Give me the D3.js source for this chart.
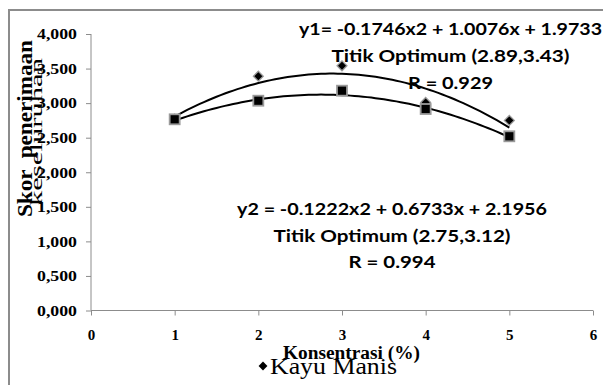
<!DOCTYPE html>
<html>
<head>
<meta charset="utf-8">
<script src="https://cdn.jsdelivr.net/npm/d3@7"></script>
<style>
  html, body { margin: 0; padding: 0; background: #fff; }
  svg { display: block; }
</style>
</head>
<body>
<svg id="chart" width="603" height="385"></svg>
<script>
// Concentration levels (%) and observed overall acceptance scores
const concentration = [1, 2, 3, 4, 5];
const kayuManis = [2.77, 3.39, 3.54, 3.01, 2.75];
const series2 = [2.766, 3.035, 3.18, 2.915, 2.52];

// Quadratic trendline coefficients [a, b, c] for a*x^2 + b*x + c
const trend1 = [-0.1746, 1.0076, 1.9733];
const trend2 = [-0.1222, 0.6733, 2.1956];

// Axis ticks
const yTicks = [0, 0.5, 1, 1.5, 2, 2.5, 3, 3.5, 4];
const xTicks = [0, 1, 2, 3, 4, 5, 6];

// Annotation text
const note1 = ["y1= -0.1746x2 + 1.0076x + 1.9733", "Titik Optimum (2.89,3.43)", "R = 0.929"];
const note2 = ["y2 = -0.1222x2 + 0.6733x + 2.1956", "Titik Optimum (2.75,3.12)", "R = 0.994"];

const SERIF = "'Liberation Serif', 'Times New Roman', serif";
const SANS = "Lato, 'Open Sans', sans-serif";

const svg = d3.select("#chart");

// Text helper: the layout uses horizontally widened lettering,
// so each label is fitted to its width with textLength.
function label(sel, len) {
  return sel.attr("textLength", len).attr("lengthAdjust", "spacingAndGlyphs");
}

// Outer frame (top and left edges visible)
svg.append("path")
  .attr("d", "M9,385 V10 H603")
  .attr("fill", "none")
  .attr("stroke", "#8c8c8c")
  .attr("stroke-width", 2);

const x = d3.scaleLinear().domain([0, 6]).range([91, 593]);
const y = d3.scaleLinear().domain([0, 4]).range([310.5, 34]);

const yLabel = v => {
  const s = d3.format(".3f")(v).split(".");
  return s[0] + "," + s[1];
};

// Y axis
const yAxis = svg.append("g")
  .attr("transform", `translate(${x(0)},0)`)
  .call(d3.axisLeft(y).tickValues(yTicks).tickSize(5).tickPadding(9).tickFormat(yLabel));
yAxis.select(".domain").attr("stroke", "#8c8c8c").attr("d", `M0,${y(0)}V${y(4)}`);
yAxis.selectAll(".tick line").attr("stroke", "#8c8c8c");
label(yAxis.selectAll(".tick text"), 40)
  .attr("font-family", SERIF)
  .attr("font-weight", "bold")
  .attr("font-size", 15)
  .attr("fill", "#000");

// X axis
const xAxis = svg.append("g")
  .attr("transform", `translate(0,${y(0)})`)
  .call(d3.axisBottom(x).tickValues(xTicks).tickSize(5).tickPadding(14).tickFormat(d3.format("d")));
xAxis.select(".domain").attr("stroke", "#8c8c8c").attr("d", `M${x(0)},0H${x(6)}`);
xAxis.selectAll(".tick line").attr("stroke", "#8c8c8c");
xAxis.selectAll(".tick text")
  .attr("font-family", SERIF)
  .attr("font-weight", "bold")
  .attr("font-size", 15)
  .attr("fill", "#000");

// Axis titles
label(svg.append("text"), 177)
  .attr("transform", "translate(32,128.5) rotate(-90)")
  .attr("text-anchor", "middle")
  .attr("font-family", SERIF)
  .attr("font-weight", "bold")
  .attr("font-size", 20)
  .attr("xml:space", "preserve")
  .text("Skor  penerimaan");
label(svg.append("text"), 148)
  .attr("transform", "translate(42,132) rotate(-90)")
  .attr("text-anchor", "middle")
  .attr("font-family", SERIF)
  .attr("font-size", 17)
  .text("keseluruhan");

label(svg.append("text"), 137)
  .attr("x", 283).attr("y", 359)
  .attr("font-family", SERIF)
  .attr("font-weight", "bold")
  .attr("font-size", 18)
  .text("Konsentrasi (%)");

// Trendlines
const quad = c => v => c[0] * v * v + c[1] * v + c[2];
const xs = d3.range(1, 5.0001, 0.05);
const line = d3.line().x(d => x(d[0])).y(d => y(d[1]));
[trend1, trend2].forEach(c => {
  const f = quad(c);
  svg.append("path")
    .attr("d", line(xs.map(v => [v, f(v)])))
    .attr("fill", "none")
    .attr("stroke", "#000")
    .attr("stroke-width", 2);
});

// Markers: diamonds (Kayu Manis) then squares on top
const diamond = d3.symbol().type(d3.symbolDiamond2).size(62);
svg.append("g").selectAll("path")
  .data(concentration.map((c, i) => [c, kayuManis[i]]))
  .join("path")
  .attr("transform", d => `translate(${x(d[0])},${y(d[1])})`)
  .attr("d", diamond)
  .attr("fill", "#000")
  .attr("stroke", "#9a9a9a")
  .attr("stroke-width", 1.3);

svg.append("g").selectAll("rect")
  .data(concentration.map((c, i) => [c, series2[i]]))
  .join("rect")
  .attr("x", d => x(d[0]) - 5)
  .attr("y", d => y(d[1]) - 5)
  .attr("width", 10).attr("height", 10)
  .attr("fill", "#000")
  .attr("stroke", "#9a9a9a")
  .attr("stroke-width", 1.8);

// Equation annotations
function note(lines, cx, baselines, widths) {
  lines.forEach((t, i) => {
    label(svg.append("text"), widths[i])
      .attr("x", cx - widths[i] / 2).attr("y", baselines[i])
      .attr("font-family", SANS)
      .attr("font-weight", "bold")
      .attr("font-size", 17.5)
      .attr("fill", "#000")
      .text(t);
  });
}
note(note1, 450.5, [35, 62, 89], [303, 238, 85]);
note(note2, 392, [215, 241.5, 268], [310, 237, 87]);

// Legend
svg.append("path")
  .attr("transform", "translate(263,366)")
  .attr("d", d3.symbol().type(d3.symbolDiamond2).size(50))
  .attr("fill", "#000");
label(svg.append("text"), 127)
  .attr("x", 270).attr("y", 374)
  .attr("font-family", SERIF)
  .attr("font-size", 24)
  .attr("fill", "#000")
  .text("Kayu Manis");
</script>
</body>
</html>
